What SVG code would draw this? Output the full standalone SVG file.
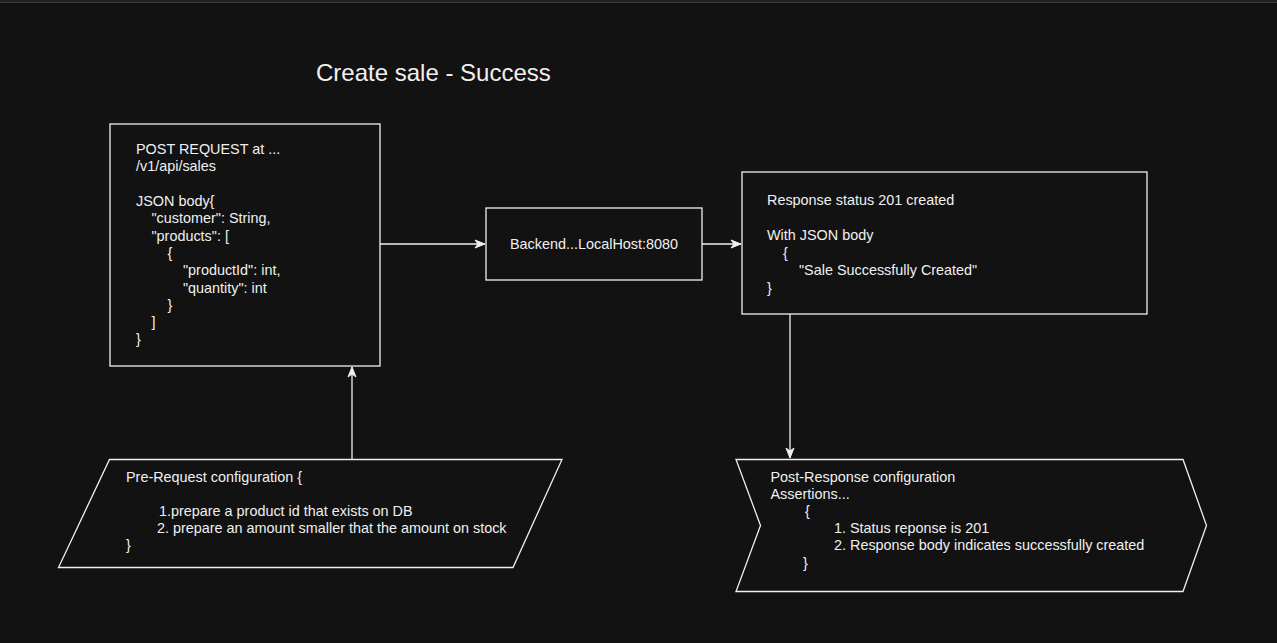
<svg xmlns="http://www.w3.org/2000/svg" width="1277" height="643" viewBox="0 0 1277 643">
<style>
.bg{fill:#121212}
.shape{fill:#121212;stroke:#f0f0f0;stroke-width:1.3}
.t{font-family:"Liberation Sans",Arial,Helvetica,sans-serif;font-size:14.4px;fill:#f0f0f0}
.title{font-family:"Liberation Sans",Arial,Helvetica,sans-serif;font-size:24px;fill:#f0f0f0}
.edge{fill:none;stroke:#f0f0f0;stroke-width:1.3}
</style>
<defs>
<marker id="arr" markerUnits="userSpaceOnUse" markerWidth="12" markerHeight="10" viewBox="0 0 12 10" refX="11" refY="5" orient="auto">
<path d="M1,1 L11,5 L1,9 L4,5 z" fill="#f0f0f0" stroke="#f0f0f0" stroke-width="1"/>
</marker>
</defs>
<rect class="bg" x="0" y="0" width="1277" height="643"/>
<rect x="0" y="0" width="1277" height="2" fill="#222"/>
<line x1="0" y1="2.5" x2="1277" y2="2.5" stroke="#3c3c3c" stroke-width="1"/>

<g id="title">
<text class="title" x="316" y="81">Create sale - Success</text>
</g>

<g id="connectors">
<line class="edge" x1="380" y1="244" x2="485" y2="244" marker-end="url(#arr)"/>
<line class="edge" x1="702" y1="244" x2="741" y2="244" marker-end="url(#arr)"/>
<line class="edge" x1="790" y1="314" x2="790" y2="458" marker-end="url(#arr)"/>
<line class="edge" x1="352" y1="459" x2="352" y2="367" marker-end="url(#arr)"/>
</g>

<g id="request">
<rect class="shape" x="110" y="124" width="270" height="242"/>
<text class="t" x="136" y="154">POST REQUEST at ...</text>
<text class="t" x="136" y="171.3">/v1/api/sales</text>
<text class="t" x="136" y="206">JSON body{</text>
<text class="t" x="151.5" y="223.3">"customer": String,</text>
<text class="t" x="151.5" y="240.6">"products": [</text>
<text class="t" x="167.5" y="257.9">{</text>
<text class="t" x="183" y="275.2">"productId": int,</text>
<text class="t" x="183" y="292.5">"quantity": int</text>
<text class="t" x="167.5" y="309.8">}</text>
<text class="t" x="151.5" y="327.1">]</text>
<text class="t" x="136" y="344.4">}</text>
</g>

<g id="backend">
<rect class="shape" x="486" y="208" width="216" height="72"/>
<text class="t" x="594" y="249" text-anchor="middle">Backend...LocalHost:8080</text>
</g>

<g id="response">
<rect class="shape" x="742" y="172" width="405" height="142"/>
<text class="t" x="767" y="205">Response status 201 created</text>
<text class="t" x="767" y="240">With JSON body</text>
<text class="t" x="783" y="257.5">{</text>
<text class="t" x="799" y="275">"Sale Successfully Created"</text>
<text class="t" x="767" y="292.5">}</text>
</g>

<g id="prerequest">
<polygon class="shape" points="109.5,459.5 562,459.5 513,567.5 58.5,567.5"/>
<text class="t" x="126" y="481.5">Pre-Request configuration {</text>
<text class="t" x="159" y="516">1.prepare a product id that exists on DB</text>
<text class="t" x="157" y="533">2. prepare an amount smaller that the amount on stock</text>
<text class="t" x="126" y="550">}</text>
</g>

<g id="postresponse">
<polygon class="shape" points="736,459.5 1183,459.5 1206.5,525.5 1183,591.5 736,591.5 760.5,525.5"/>
<text class="t" x="770.5" y="481.5">Post-Response configuration</text>
<text class="t" x="770.5" y="499">Assertions...</text>
<text class="t" x="805" y="516">{</text>
<text class="t" x="834" y="533">1. Status reponse is 201</text>
<text class="t" x="834" y="550">2. Response body indicates successfully created</text>
<text class="t" x="803" y="568">}</text>
</g>
</svg>
